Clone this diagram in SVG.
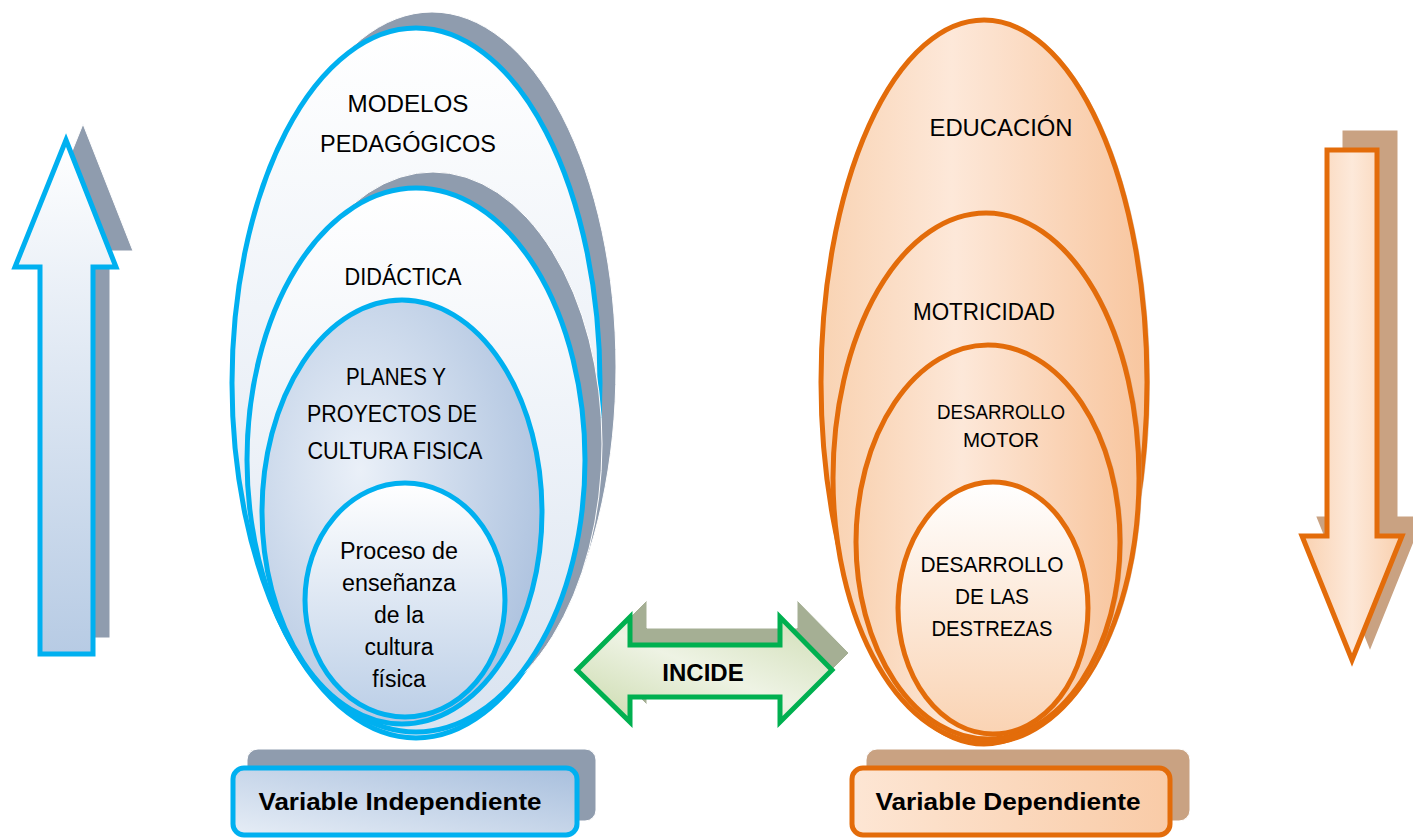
<svg xmlns="http://www.w3.org/2000/svg" width="1413" height="838" viewBox="0 0 1413 838">
<defs>
<linearGradient id="gArrowBlue" x1="0" y1="0" x2="0" y2="1"><stop offset="0" stop-color="#ffffff"/><stop offset="1" stop-color="#b7cbe4"/></linearGradient>
<linearGradient id="gEllLight" x1="0" y1="0" x2="0" y2="1"><stop offset="0" stop-color="#ffffff"/><stop offset="1" stop-color="#d9e3f0"/></linearGradient>
<radialGradient id="gEllBlue" cx="0.35" cy="0.4" r="0.75"><stop offset="0" stop-color="#eaf0f8"/><stop offset="1" stop-color="#a9bfdd"/></radialGradient>
<linearGradient id="gEllInner" x1="0" y1="0" x2="0" y2="1"><stop offset="0" stop-color="#ffffff"/><stop offset="1" stop-color="#bccfe7"/></linearGradient>
<linearGradient id="gBoxBlue" x1="0" y1="1" x2="1" y2="0"><stop offset="0" stop-color="#e6edf6"/><stop offset="1" stop-color="#a8bfdd"/></linearGradient>
<linearGradient id="gPeach" x1="0" y1="0" x2="1" y2="0"><stop offset="0" stop-color="#f9d3b3"/><stop offset="0.4" stop-color="#fde8d9"/><stop offset="1" stop-color="#f8c69f"/></linearGradient>
<linearGradient id="gPeachInner" x1="0" y1="0" x2="0" y2="1"><stop offset="0" stop-color="#ffffff"/><stop offset="1" stop-color="#fad3b3"/></linearGradient>
<linearGradient id="gPeachArrow" x1="0" y1="0" x2="1" y2="0"><stop offset="0" stop-color="#f9d1b0"/><stop offset="0.5" stop-color="#fde9da"/><stop offset="1" stop-color="#f9cfad"/></linearGradient>
<linearGradient id="gBoxPeach" x1="0" y1="0" x2="1" y2="0"><stop offset="0" stop-color="#fde6d4"/><stop offset="1" stop-color="#f9cba7"/></linearGradient>
<linearGradient id="gGreen" x1="0" y1="1" x2="1" y2="0"><stop offset="0" stop-color="#c9d9aa"/><stop offset="0.5" stop-color="#eef3e4"/><stop offset="1" stop-color="#cfddb4"/></linearGradient>
<style>
.blue{stroke:#00b0f0;stroke-width:5}
.orange{stroke:#e36c0a;stroke-width:5}
.green{stroke:#00b050;stroke-width:5}
.shGray{fill:#8f9cae;stroke:#ffffff;stroke-width:1}
.shTan{fill:#c9a282;stroke:#ffffff;stroke-width:1}
.shGreen{fill:#a5af94;stroke:#ffffff;stroke-width:1}
.t{font-family:"Liberation Sans","Open Sans",sans-serif;font-size:24px;fill:#000;text-anchor:middle}
.s{font-size:23px}
.tb{font-family:"Liberation Sans","Open Sans",sans-serif;font-size:24px;font-weight:bold;fill:#000;text-anchor:middle}
</style>
</defs>
<g id="arrow-up">
<path class="shGray" transform="translate(17,-16)" d="M66,140 L116,267 L93,267 L93,654 L40,654 L40,267 L15,267 Z" stroke="none"/>
<path class="blue" fill="url(#gArrowBlue)" d="M66,140 L116,267 L93,267 L93,654 L40,654 L40,267 L15,267 Z"/>
</g>
<g id="independiente-ellipses">
<ellipse class="shGray" cx="432" cy="367" rx="184" ry="355"/>
<ellipse class="blue" fill="url(#gEllLight)" cx="416" cy="383" rx="184" ry="355"/>
<text class="t" x="408" y="112" textLength="121" lengthAdjust="spacingAndGlyphs">MODELOS</text>
<text class="t" x="408" y="152" textLength="176" lengthAdjust="spacingAndGlyphs">PEDAGÓGICOS</text>
<ellipse class="shGray" cx="433" cy="444" rx="169" ry="272"/>
<ellipse class="blue" fill="url(#gEllLight)" cx="416" cy="460" rx="169" ry="272"/>
<text class="t" x="403" y="285" textLength="117" lengthAdjust="spacingAndGlyphs">DIDÁCTICA</text>
<ellipse class="blue" fill="url(#gEllBlue)" cx="402" cy="512" rx="140" ry="212"/>
<text class="t" x="396" y="385" textLength="100" lengthAdjust="spacingAndGlyphs">PLANES Y</text>
<text class="t" x="392" y="422" textLength="170" lengthAdjust="spacingAndGlyphs">PROYECTOS DE</text>
<text class="t" x="395" y="459" textLength="175" lengthAdjust="spacingAndGlyphs">CULTURA FISICA</text>
<ellipse class="blue" fill="url(#gEllInner)" cx="405" cy="600" rx="100" ry="117"/>
<text class="t s" x="399" y="559" textLength="118" lengthAdjust="spacingAndGlyphs">Proceso de</text>
<text class="t s" x="399" y="591" textLength="114" lengthAdjust="spacingAndGlyphs">enseñanza</text>
<text class="t s" x="399" y="623">de la</text>
<text class="t s" x="399" y="655">cultura</text>
<text class="t s" x="399" y="687">física</text>
</g>
<g id="box-independiente">
<rect class="shGray" x="247" y="749" width="349" height="72" rx="11"/>
<rect class="blue" fill="url(#gBoxBlue)" x="233" y="768" width="344" height="67" rx="11"/>
<text class="tb" x="400" y="810" textLength="283" lengthAdjust="spacingAndGlyphs">Variable Independiente</text>
</g>
<g id="connectors">
<g id="incide">
<path class="shGreen" transform="translate(17,-17)" d="M577,670 L630,617 L630,645 L780,645 L780,617 L832,670 L780,722 L780,697 L630,697 L630,722 Z"/>
<path class="green" fill="url(#gGreen)" d="M577,670 L630,617 L630,645 L780,645 L780,617 L832,670 L780,722 L780,697 L630,697 L630,722 Z"/>
<text class="tb" x="703" y="681">INCIDE</text>
</g>
</g>
<g id="dependiente-ellipses">
<ellipse fill="#c9a282" opacity="0.6" cx="987" cy="382" rx="163" ry="362"/>
<ellipse class="orange" fill="url(#gPeach)" cx="984" cy="382" rx="163" ry="362"/>
<text class="t" x="1001" y="136" textLength="143" lengthAdjust="spacingAndGlyphs">EDUCACIÓN</text>
<ellipse fill="#c9a282" opacity="0.6" cx="989" cy="478" rx="153" ry="265"/>
<ellipse class="orange" fill="url(#gPeach)" cx="986" cy="478" rx="153" ry="265"/>
<text class="t" x="984" y="320" textLength="142" lengthAdjust="spacingAndGlyphs">MOTRICIDAD</text>
<ellipse fill="#c9a282" opacity="0.6" cx="991" cy="542" rx="132" ry="197"/>
<ellipse class="orange" fill="url(#gPeach)" cx="988" cy="542" rx="132" ry="197"/>
<text class="t" x="1001" y="419" style="font-size:20px" textLength="128" lengthAdjust="spacingAndGlyphs">DESARROLLO</text>
<text class="t" x="1001" y="447" style="font-size:20px" textLength="76" lengthAdjust="spacingAndGlyphs">MOTOR</text>
<ellipse fill="#c9a282" opacity="0.6" cx="995" cy="608" rx="95" ry="126"/>
<ellipse class="orange" fill="url(#gPeachInner)" cx="993" cy="608" rx="95" ry="126"/>
<text class="t" x="992" y="572" style="font-size:22px" textLength="143" lengthAdjust="spacingAndGlyphs">DESARROLLO</text>
<text class="t" x="992" y="604" style="font-size:22px" textLength="74" lengthAdjust="spacingAndGlyphs">DE LAS</text>
<text class="t" x="992" y="636" style="font-size:22px" textLength="121" lengthAdjust="spacingAndGlyphs">DESTREZAS</text>
</g>
<g id="box-dependiente">
<rect class="shTan" x="866" y="749" width="324" height="72" rx="11"/>
<rect class="orange" fill="url(#gBoxPeach)" x="852" y="768" width="318" height="67" rx="11"/>
<text class="tb" x="1008" y="810" textLength="265" lengthAdjust="spacingAndGlyphs">Variable Dependiente</text>
</g>
<g id="arrow-down">
<path fill="#c9a282" transform="translate(18,-17)" d="M1327,150 L1377,150 L1377,536 L1402,536 L1352,660 L1302,536 L1327,536 Z" stroke="#c9a282" stroke-width="5"/>
<path class="orange" fill="url(#gPeachArrow)" d="M1327,150 L1377,150 L1377,536 L1402,536 L1352,660 L1302,536 L1327,536 Z"/>
</g>
</svg>
